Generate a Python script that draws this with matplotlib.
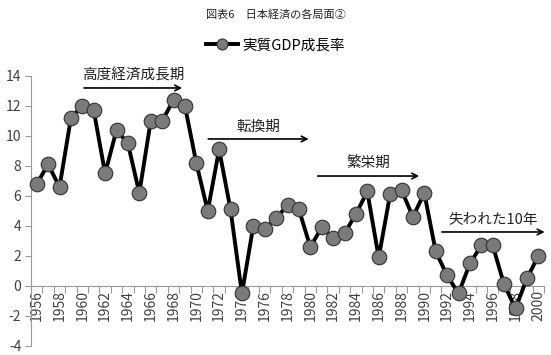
import numpy as np
import matplotlib
matplotlib.use("Agg")
import matplotlib.pyplot as plt

plt.rcParams['font.family'] = ['Noto Sans CJK JP', 'DejaVu Sans']
plt.rcParams['axes.unicode_minus'] = False

years = list(range(1956, 2001))
gdp_growth = [6.8, 8.1, 6.6, 11.2, 12.0, 11.7, 7.5, 10.4, 9.5, 6.2,
              11.0, 11.0, 12.4, 12.0, 8.2, 5.0, 9.1, 5.1, -0.5, 4.0,
              3.8, 4.5, 5.4, 5.1, 2.6, 3.9, 3.2, 3.5, 4.8, 6.3,
              1.9, 6.1, 6.4, 4.6, 6.2, 2.3, 0.7, -0.5, 1.5, 2.7,
              2.7, 0.1, -1.5, 0.5, 2.0]
y_ticks = [-4, -2, 0, 2, 4, 6, 8, 10, 12, 14]

# 期間ラベル: (テキスト, 開始年, 終了年)
periods = [("高度経済成長期", 1959.9, 1969.0),
           ("転換期", 1970.8, 1980.1),
           ("繁栄期", 1980.4, 1989.8),
           ("失われた10年", 1991.3, 2000.8)]
period_levels = [13.2, 9.8, 7.33, 3.6]

fig = plt.figure(figsize=(5.51, 3.55), dpi=100)
ax = fig.add_axes([0.0563, 0.0254, 0.931, 0.7606])

ax.plot(years, gdp_growth, color='black', lw=2.8, marker='o', ms=10.5,
        mfc='#7a7a7a', mec='#333333', mew=0.8, label='実質GDP成長率',
        zorder=3, clip_on=False)

ax.set_xlim(years[0] - 0.5, years[-1] + 0.5)
ax.set_ylim(-4, 14)
ax.set_yticks(y_ticks)
ax.set_xticks(years[::2])
ax.set_xticks(np.arange(years[0] - 0.5, years[-1] + 1), minor=True)
ax.tick_params(axis='x', which='major', length=0, rotation=90, labelsize=10,
               pad=3, colors='#404040')
ax.tick_params(axis='x', which='minor', length=5, color='#999999', width=0.8)
ax.tick_params(axis='y', length=4, color='#999999', labelsize=10,
               labelcolor='#404040', pad=3)

for s in ['top', 'right']:
    ax.spines[s].set_visible(False)
ax.spines['bottom'].set_position(('data', 0))
ax.spines['bottom'].set_color('#999999')
ax.spines['left'].set_color('#999999')

for (txt, x0, x1), lvl in zip(periods, period_levels):
    ax.annotate('', xy=(x1, lvl), xytext=(x0, lvl),
                arrowprops=dict(arrowstyle='->', color='black', lw=1.2),
                annotation_clip=False)
    ax.text((x0 + x1) / 2, lvl + 0.35, txt, ha='center', va='bottom',
            fontsize=10.5, color='#222222')

fig.text(0.5, 0.96, '図表6\u3000日本経済の各局面②', ha='center', va='center',
         fontsize=8, color='#222222')
fig.legend(loc='center', bbox_to_anchor=(0.5, 0.873), frameon=False,
           fontsize=10.5, handlelength=2.2, handletextpad=0.3,
           markerscale=0.75)

fig.savefig('out.png', dpi=100)
